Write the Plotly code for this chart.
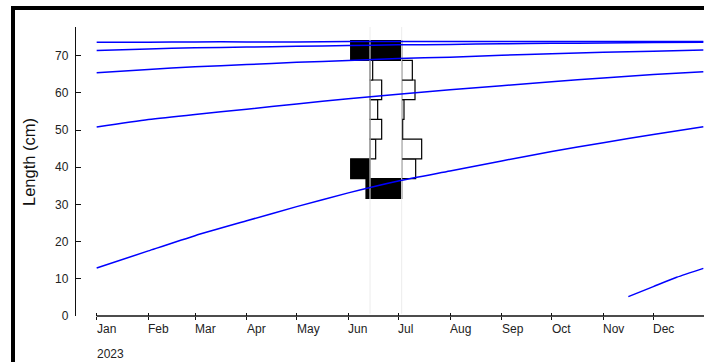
import plotly.graph_objects as go
import pandas as pd

# ---------------- data ----------------
month_ticks = ["2023-01-01", "2023-02-01", "2023-03-01", "2023-04-01", "2023-05-01", "2023-06-01",
               "2023-07-01", "2023-08-01", "2023-09-01", "2023-10-01", "2023-11-01", "2023-12-01"]
month_labels = ["Jan", "Feb", "Mar", "Apr", "May", "Jun", "Jul", "Aug", "Sep", "Oct", "Nov", "Dec"]
year_label = "2023"
y_ticks = [0, 10, 20, 30, 40, 50, 60, 70]

# length-frequency samples (restructured scores, expressed in days of bar length)
sample_dates = ["2023-06-14", "2023-07-03"]
mid_lengths = [34.3, 39.6, 44.9, 50.2, 55.5, 60.8, 66.1, 71.4]
bin_width = 5.3
scores_jun14 = [0.0, 11.6, -3.4, -7.0, -4.6, -7.0, -1.6, 11.6]
scores_jul03 = [21.4, -8.4, -12.0, -0.6, -1.4, -8.0, -6.4, 19.0]

# growth curves (cm) read at the curve dates
curve_dates = ["2023-01-01", "2023-02-01", "2023-03-01", "2023-04-01", "2023-05-01", "2023-06-01",
               "2023-07-01", "2023-08-01", "2023-09-01", "2023-10-01", "2023-11-01", "2023-12-01",
               "2023-12-31"]
curve_a = [12.9, 17.5, 21.6, 25.6, 29.4, 33.1, 36.3, 39.0, 41.7, 44.2, 46.6, 48.8, 50.9]
curve_b = [50.8, 52.8, 54.2, 55.6, 57.0, 58.4, 59.6, 60.8, 61.9, 63.0, 64.0, 64.9, 65.7]
curve_c = [65.4, 66.3, 67.0, 67.6, 68.2, 68.7, 69.2, 69.6, 70.1, 70.5, 70.9, 71.2, 71.5]
curve_d = [71.4, 71.8, 72.1, 72.3, 72.5, 72.7, 72.9, 73.0, 73.2, 73.3, 73.4, 73.5, 73.6]
curve_e = [73.6, 73.6, 73.7, 73.7, 73.7, 73.8, 73.8, 73.8, 73.8, 73.8, 73.8, 73.8, 73.8]
recruit_dates = ["2023-11-16", "2023-12-01", "2023-12-15", "2023-12-31"]
curve_recruit = [5.2, 7.9, 10.4, 12.8]

# ---------------- figure ----------------
X_RANGE = ["2022-12-19 14:24", "2023-12-31 09:36"]
Y_RANGE = [0, 77.7]
FONT = "Liberation Sans, Arial, sans-serif"
DAY_MS = 86400000

fig = go.Figure()

# sample date guide lines
for d in sample_dates:
    fig.add_trace(go.Scatter(x=[d, d], y=[Y_RANGE[0] + 0.6, Y_RANGE[1]], mode="lines",
                             line=dict(color="#ececec", width=1), hoverinfo="skip"))

# histogram bars (positive -> black to the left, negative -> white to the right)
for d, scores in zip(sample_dates, [scores_jun14, scores_jul03]):
    t = pd.Timestamp(d)
    bases, lens, ys, cols = [], [], [], []
    for m, s in zip(mid_lengths, scores):
        if s == 0:
            continue
        if s > 0:
            bases.append((t - pd.Timedelta(days=s)).isoformat())
            cols.append("#000000")
        else:
            bases.append(t.isoformat())
            cols.append("#ffffff")
        lens.append(abs(s) * DAY_MS)
        ys.append(m)
    fig.add_trace(go.Bar(orientation="h", y=ys, x=lens, base=bases, width=bin_width,
                         marker=dict(color=cols, line=dict(color="#000000", width=1.2)),
                         hoverinfo="skip"))

# growth curves
for c in [curve_a, curve_b, curve_c, curve_d, curve_e]:
    fig.add_trace(go.Scatter(x=curve_dates, y=c, mode="lines", line_shape="spline",
                             line=dict(color="#0000ff", width=1.5, smoothing=0.6),
                             hoverinfo="skip"))
fig.add_trace(go.Scatter(x=recruit_dates, y=curve_recruit, mode="lines", line_shape="spline",
                         line=dict(color="#0000ff", width=1.5, smoothing=0.6), hoverinfo="skip"))

# invisible trace on overlay axis (inner tick halves)
fig.add_trace(go.Scatter(x=[month_ticks[0]], y=[0], xaxis="x2", mode="markers",
                         marker=dict(opacity=0), hoverinfo="skip"))

# month labels & year as left-aligned text under ticks
annotations = []
for mt, ml in zip(month_ticks, month_labels):
    annotations.append(dict(x=mt, y=-0.045, xref="x", yref="paper", text=ml, showarrow=False,
                            xanchor="left", yanchor="middle", xshift=-2,
                            font=dict(family=FONT, size=12, color="#222222")))
annotations.append(dict(x=month_ticks[0], y=-0.1315, xref="x", yref="paper", text=year_label,
                        showarrow=False, xanchor="left", yanchor="middle", xshift=-2,
                        font=dict(family=FONT, size=12, color="#222222")))
annotations.append(dict(x=-0.0748, y=0.533, xref="paper", yref="paper", text="Length (cm)",
                        showarrow=False, textangle=-90, xanchor="center", yanchor="middle",
                        font=dict(family=FONT, size=16.5, color="#111111")))

# x-axis line starting at the first tick
x0_ms = pd.Timestamp(X_RANGE[0]).value / 1e6
x1_ms = pd.Timestamp(X_RANGE[1]).value / 1e6
first_ms = pd.Timestamp(month_ticks[0]).value / 1e6
x_start_frac = (first_ms - x0_ms) / (x1_ms - x0_ms)

shapes = [
    dict(type="line", xref="paper", yref="paper", x0=x_start_frac, x1=1.05, y0=0, y1=0,
         line=dict(color="#111111", width=1.3)),
    dict(type="rect", xref="paper", yref="paper", x0=(13 - 76) / 628, x1=1.3,
         y0=-0.6, y1=(316 - 8) / 289, line=dict(color="#000000", width=4)),
]

fig.update_layout(
    width=704, height=362,
    margin=dict(l=76, r=0, t=27, b=46),
    paper_bgcolor="white", plot_bgcolor="white",
    showlegend=False, barmode="overlay",
    font=dict(family=FONT, size=12, color="#222222"),
    xaxis=dict(type="date", range=X_RANGE, tickvals=month_ticks, showticklabels=False,
               ticks="outside", ticklen=3, tickwidth=1.2, tickcolor="#111111",
               showgrid=False, showline=False, zeroline=False),
    xaxis2=dict(type="date", range=X_RANGE, overlaying="x", side="bottom", anchor="y",
                tickvals=month_ticks, showticklabels=False, ticks="inside", ticklen=3,
                tickwidth=1.2, tickcolor="#111111", showgrid=False, showline=False,
                zeroline=False),
    yaxis=dict(range=Y_RANGE, tickvals=y_ticks, ticks="inside", ticklen=5, tickwidth=1.2,
               tickcolor="#111111", showline=True, linecolor="#111111", linewidth=1.3,
               showgrid=False, zeroline=False, ticklabelstandoff=4,
               tickfont=dict(family=FONT, size=12, color="#222222")),
    annotations=annotations,
    shapes=shapes,
)

fig.write_html("out.html")
